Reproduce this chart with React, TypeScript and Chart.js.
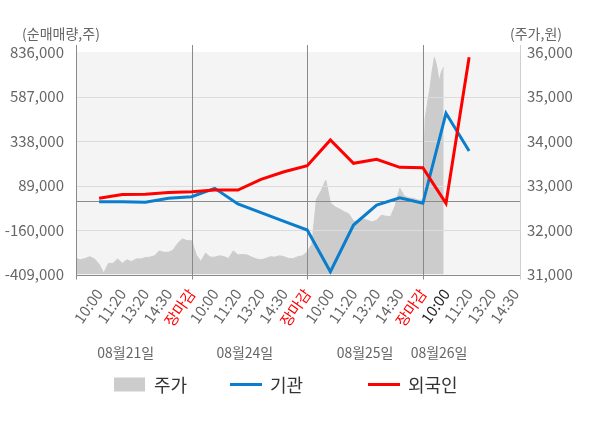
import React, { useEffect, useRef } from 'react';
import { Chart, registerables } from 'chart.js';

Chart.register(...registerables);

const FONT = "'Noto Sans CJK KR', 'Noto Sans', sans-serif";
const BLUE = '#0a7dcd';
const RED = '#ff0000';
const AREA = '#cccccc';

// x-axis slots (one per flow observation)
const timeLabels = [
  '10:00', '11:20', '13:20', '14:30', '장마감',
  '10:00', '11:20', '13:20', '14:30', '장마감',
  '10:00', '11:20', '13:20', '14:30', '장마감',
  '10:00', '11:20', '13:20', '14:30',
];
const closeLabel = '장마감';
const currentSlot = 15;
const dayLabels = ['08월21일', '08월24일', '08월25일', '08월26일'];
const dayLabelSlots = [1.15, 6.3, 11.5, 14.7];
const dayBoundarySlots = [4, 9, 14];
const slotMin = -1;
const slotMax = 18.2;

const volumeTicks = [-409000, -160000, 89000, 338000, 587000, 836000];
const priceTicks = [31000, 32000, 33000, 34000, 35000, 36000];

// net buying (shares)
const institution = [
  -1700, -1700, -5000, 17300, 26300,
  73300, -14500, -63200, -111400, -160000,
  -393400, -132000, -20100, 20700, -10600,
  493000, 282000,
];
const foreign = [
  17300, 38600, 39700, 49800, 54300,
  63800, 63800, 123700, 166200, 199800,
  343600, 213200, 235600, 190800, 188600,
  -10600, 806400,
];

// intraday price (won), sampled along the slot axis
const priceDay1 = [
  31360, 31330, 31360, 31400, 31350, 31230, 31030, 31250, 31250, 31350,
  31250, 31330, 31290, 31350, 31350, 31380, 31390, 31420, 31530, 31500,
  31500, 31550, 31700, 31800, 31760, 31760,
];
const priceDay2 = [
  31440, 31290, 31480, 31390, 31390, 31420, 31400, 31360, 31530, 31440,
  31450, 31440, 31390, 31350, 31330, 31360, 31400, 31390, 31420, 31400,
  31360, 31360, 31400, 31420, 31510,
];
const priceDay3 = [
  31680, 32700, 32880, 33120, 32610, 32520, 32470, 32410, 32360, 32200,
  32190, 32250, 32220, 32180, 32220, 32330, 32310, 32300, 32540, 32940,
  32760, 32720, 32710, 32670, 32670,
];
const priceDay4 = [34510, 34850, 35160, 35570, 35880, 35680, 35340, 35550, 35660];

const priceSegments = [
  { start: -1, step: 0.2, values: priceDay1 },
  { start: 4.2, step: 0.2, values: priceDay2 },
  { start: 9.2, step: 0.2, values: priceDay3 },
  { start: 14.1, step: 0.1, values: priceDay4 },
];

const legendItems = [
  { text: '주가', kind: 'box', color: AREA },
  { text: '기관', kind: 'line', color: BLUE },
  { text: '외국인', kind: 'line', color: RED },
];

const decorPlugin = {
  id: 'decor',
  beforeDraw(chart: any) {
    const { ctx, chartArea: a } = chart;
    ctx.save();
    ctx.fillStyle = '#f4f4f4';
    ctx.fillRect(a.left, a.top, a.right - a.left, a.bottom - a.top);
    ctx.restore();
  },
  afterDatasetDraw(chart: any, args: any) {
    if (args.index !== 0) return;
    const { ctx, chartArea: a, scales } = chart;
    const yL = scales.yL;
    const x = scales.x;
    const line = (x1: number, y1: number, x2: number, y2: number) => {
      ctx.beginPath();
      ctx.moveTo(x1, y1);
      ctx.lineTo(x2, y2);
      ctx.stroke();
    };
    ctx.save();
    ctx.lineWidth = 1;
    ctx.strokeStyle = '#dcdcdc';
    volumeTicks.slice(1, -1).forEach((v) => {
      const y = Math.round(yL.getPixelForValue(v)) + 0.5;
      line(a.left, y, a.right, y);
    });
    ctx.strokeStyle = '#8a8a8a';
    const y0 = Math.round(yL.getPixelForValue(0)) + 0.5;
    line(a.left, y0, a.right, y0);
    const top = a.top - 7;
    const bot = a.bottom + 5;
    [slotMin, ...dayBoundarySlots].forEach((v) => {
      const px = Math.round(x.getPixelForValue(v)) + 0.5;
      line(px, top, px, bot);
    });
    const yb = Math.round(a.bottom) + 0.5;
    line(a.left, yb, a.right, yb);
    ctx.strokeStyle = '#cfcfcf';
    const pr = Math.round(a.right) + 0.5;
    line(pr, top, pr, bot);
    ctx.restore();
  },
  afterDraw(chart: any) {
    const { ctx, chartArea: a, width } = chart;
    ctx.save();
    ctx.font = `14px ${FONT}`;
    ctx.fillStyle = '#666';
    ctx.textAlign = 'center';
    ctx.textBaseline = 'middle';
    ctx.fillText('(순매매량,주)', a.left - 15, a.top - 18);
    ctx.fillText('(주가,원)', a.right + 16, a.top - 18);

    // legend
    const cy = 384.5;
    const starts = [width / 2 - 186, width / 2 - 70, width / 2 + 68];
    ctx.font = `18px ${FONT}`;
    ctx.textAlign = 'left';
    legendItems.forEach((it, i) => {
      const sx = starts[i];
      if (it.kind === 'box') {
        ctx.fillStyle = it.color;
        ctx.fillRect(sx, cy - 7, 31, 14);
      } else {
        ctx.strokeStyle = it.color;
        ctx.lineWidth = 3;
        ctx.beginPath();
        ctx.moveTo(sx, cy);
        ctx.lineTo(sx + 32, cy);
        ctx.stroke();
      }
      ctx.fillStyle = '#333';
      ctx.fillText(it.text, sx + 40, cy + 1);
    });
    ctx.restore();
  },
};

export default function App() {
  const ref = useRef<HTMLCanvasElement | null>(null);

  useEffect(() => {
    document.body.style.margin = '0';
    if (!ref.current) return;

    const pricePoints: { x: number; y: number }[] = [];
    priceSegments.forEach((seg) => {
      seg.values.forEach((v, i) => pricePoints.push({ x: seg.start + i * seg.step, y: v }));
    });

    const chart = new Chart(ref.current, {
      type: 'line',
      data: {
        datasets: [
          {
            label: '주가',
            data: pricePoints,
            yAxisID: 'yR',
            xAxisID: 'x',
            fill: 'start',
            backgroundColor: AREA,
            borderColor: AREA,
            borderWidth: 1,
            pointRadius: 0,
            tension: 0,
            order: 3,
          },
          {
            label: '기관',
            data: institution.map((v, i) => ({ x: i, y: v })),
            yAxisID: 'yL',
            xAxisID: 'x',
            borderColor: BLUE,
            borderWidth: 3,
            pointRadius: 0,
            fill: false,
            tension: 0,
            order: 2,
          },
          {
            label: '외국인',
            data: foreign.map((v, i) => ({ x: i, y: v })),
            yAxisID: 'yL',
            xAxisID: 'x',
            borderColor: RED,
            borderWidth: 3,
            pointRadius: 0,
            fill: false,
            tension: 0,
            order: 1,
          },
        ],
      },
      options: {
        responsive: false,
        animation: false,
        events: [],
        layout: { padding: { top: 52, bottom: 61.5, left: 0, right: 0 } },
        plugins: {
          legend: { display: false },
          tooltip: { enabled: false },
        },
        scales: {
          x: {
            type: 'linear',
            position: 'bottom',
            min: slotMin,
            max: slotMax,
            weight: 0,
            afterBuildTicks: (s: any) => {
              s.ticks = timeLabels.map((_, i) => ({ value: i }));
            },
            afterFit: (s: any) => {
              s.height = 70;
            },
            grid: { display: false, drawTicks: true, tickLength: 8 },
            border: { display: false },
            ticks: {
              autoSkip: false,
              minRotation: 55,
              maxRotation: 55,
              padding: 3,
              font: { size: 15, family: FONT },
              color: (c: any) => {
                if (timeLabels[c.index] === closeLabel) return RED;
                if (c.index === currentSlot) return '#222';
                return '#666';
              },
              callback: (_v: any, i: number) => timeLabels[i] ?? '',
            },
          },
          xDate: {
            type: 'linear',
            position: 'bottom',
            min: slotMin,
            max: slotMax,
            weight: 1,
            afterBuildTicks: (s: any) => {
              s.ticks = dayLabelSlots.map((v) => ({ value: v }));
            },
            afterFit: (s: any) => {
              s.height = 22;
            },
            grid: { display: false, drawTicks: false },
            border: { display: false },
            ticks: {
              autoSkip: false,
              minRotation: 0,
              maxRotation: 0,
              padding: 0,
              font: { size: 14, family: FONT },
              color: '#666',
              callback: (_v: any, i: number) => dayLabels[i] ?? '',
            },
          },
          yL: {
            type: 'linear',
            position: 'left',
            min: volumeTicks[0],
            max: volumeTicks[volumeTicks.length - 1],
            afterBuildTicks: (s: any) => {
              s.ticks = volumeTicks.map((v) => ({ value: v }));
            },
            afterFit: (s: any) => {
              s.width = 76;
            },
            grid: { display: false, drawTicks: false },
            border: { display: false },
            ticks: {
              padding: 12,
              font: { size: 15, family: FONT },
              color: '#666',
              callback: (v: any) => Number(v).toLocaleString('en-US'),
            },
          },
          yR: {
            type: 'linear',
            position: 'right',
            min: priceTicks[0],
            max: priceTicks[priceTicks.length - 1],
            afterBuildTicks: (s: any) => {
              s.ticks = priceTicks.map((v) => ({ value: v }));
            },
            afterFit: (s: any) => {
              s.width = 80;
            },
            grid: { display: false, drawTicks: false },
            border: { display: false },
            ticks: {
              padding: 7,
              font: { size: 15, family: FONT },
              color: '#666',
              callback: (v: any) => Number(v).toLocaleString('en-US'),
            },
          },
        },
      } as any,
      plugins: [decorPlugin as any],
    });

    return () => chart.destroy();
  }, []);

  return (
    <div style={{ width: 600, height: 428, background: '#fff' }}>
      <canvas ref={ref} width={600} height={428} style={{ display: 'block' }} />
    </div>
  );
}
